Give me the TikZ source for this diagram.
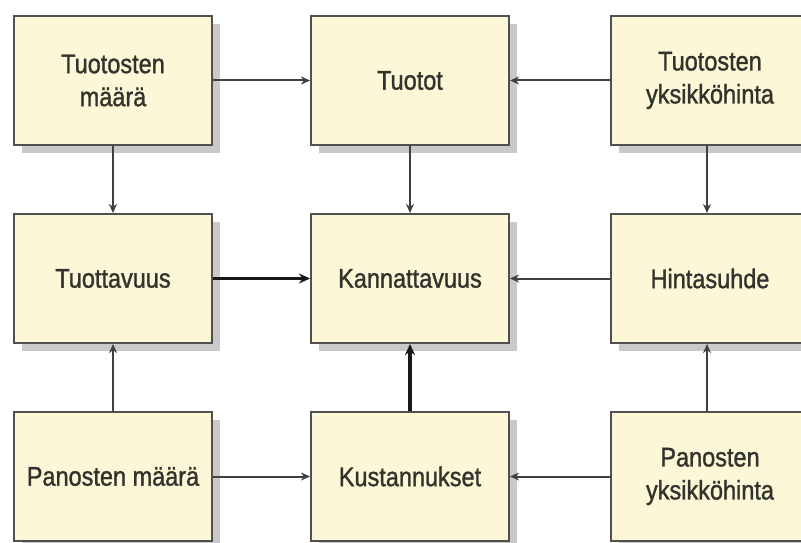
\documentclass[tikz,border=0pt]{standalone}
\usepackage{fontspec}
\setmainfont[FakeStretch=0.87,FakeBold=1.2]{Liberation Sans}
\usetikzlibrary{arrows.meta}
\definecolor{boxfill}{HTML}{FCF7D6}
\definecolor{boxline}{HTML}{505050}
\definecolor{shadowc}{HTML}{C9C9C9}
\definecolor{txt}{HTML}{33332D}
\tikzset{
  box/.style={draw=boxline, line width=2pt, fill=boxfill, minimum width=198pt, minimum height=129pt,
    inner sep=0pt, align=center, text=txt, font=\fontsize{27}{33}\selectfont},
  thin/.style={draw=black!75, line width=2pt, -{Stealth[length=9pt,width=8pt]}},
  thick/.style={draw=black!90, line width=3.5pt, -{Stealth[length=11pt,width=10pt]}},
}
\begin{document}
\begin{tikzpicture}[x=1pt,y=1pt]
\useasboundingbox (0,0) rectangle (801,542);
% shadows
\foreach \cx/\cy in {113/461.5,410/461.5,710/461.5,113/263.5,410/263.5,710/263.5,113/65.5,410/65.5,710/65.5}{
  \fill[shadowc] (\cx-99+8,\cy-64.5-8) rectangle (\cx+99+8,\cy+64.5-8);
}
\node[box] (tm) at (113,461.5) {Tuotosten\\määrä};
\node[box] (tt) at (410,461.5) {Tuotot};
\node[box] (ty) at (710,461.5) {Tuotosten\\yksikköhinta};
\node[box] (tv) at (113,263.5) {Tuottavuus};
\node[box] (ka) at (410,263.5) {Kannattavuus};
\node[box] (hs) at (710,263.5) {Hintasuhde};
\node[box] (pm) at (113,65.5) {Panosten määrä};
\node[box] (ku) at (410,65.5) {Kustannukset};
\node[box] (py) at (710,65.5) {Panosten\\yksikköhinta};
\draw[thin] (tm) -- (tt);
\draw[thin] (ty) -- (tt);
\draw[thin] (tm) -- (tv);
\draw[thin] (tt) -- (ka);
\draw[thin] ([xshift=-3pt]ty.south) -- ([xshift=-3pt]hs.north);
\draw[thick] (tv) -- (ka);
\draw[thin] (hs) -- (ka);
\draw[thin] (pm) -- (tv);
\draw[thick] (ku) -- (ka);
\draw[thin] ([xshift=-3pt]py.north) -- ([xshift=-3pt]hs.south);
\draw[thin] (pm) -- (ku);
\draw[thin] (py) -- (ku);
\end{tikzpicture}
\end{document}
